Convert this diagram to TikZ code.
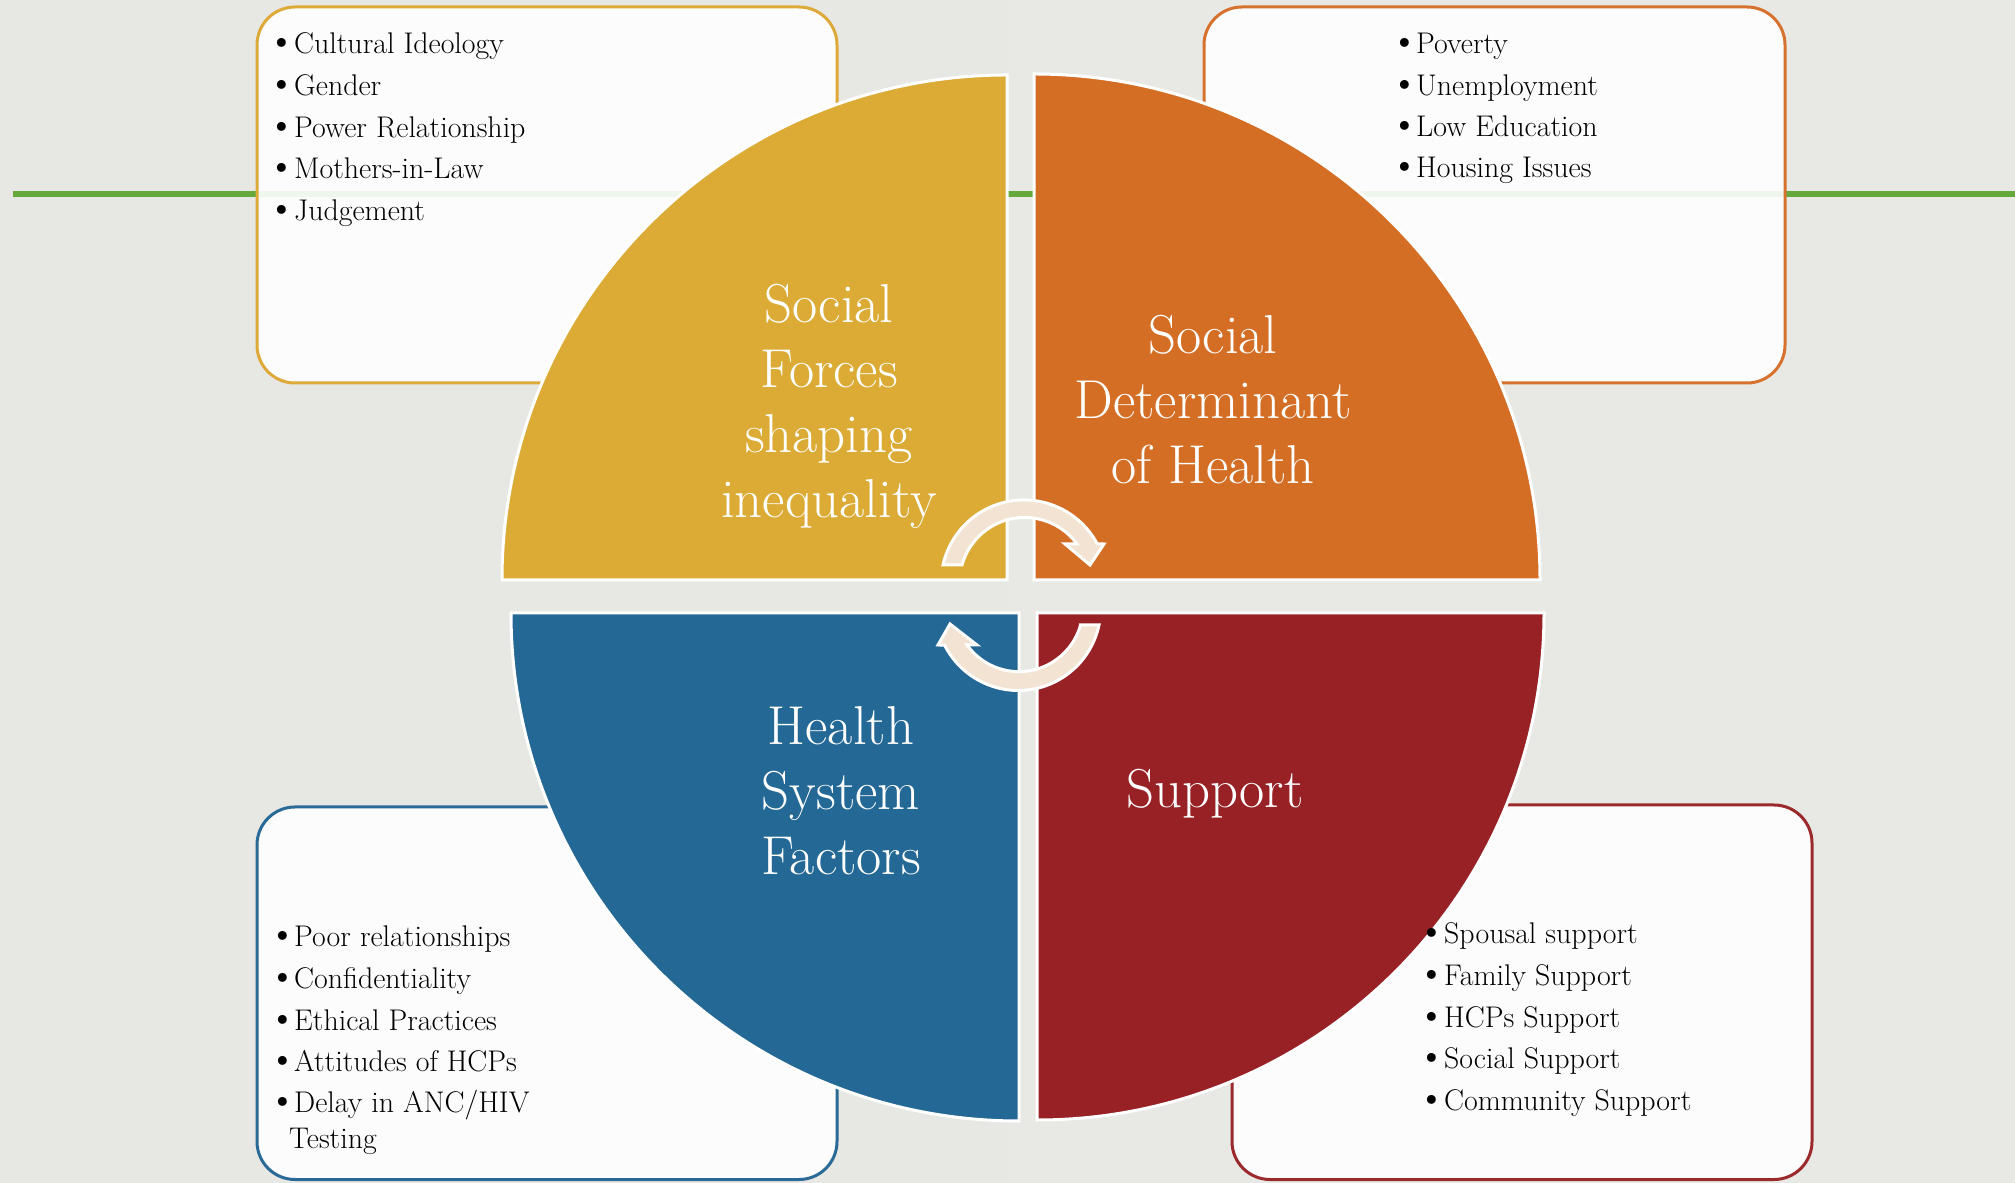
\documentclass[tikz,border=0pt]{standalone}
\usepackage{fontspec}
\definecolor{bgL}{HTML}{E7E7E3}
\definecolor{bgM}{HTML}{F4F4F2}
\definecolor{bgR}{HTML}{E8E8E4}
\definecolor{greenline}{HTML}{65A83B}
\definecolor{qgold}{HTML}{DBAB36}
\definecolor{qorange}{HTML}{D46E25}
\definecolor{qblue}{HTML}{246895}
\definecolor{qred}{HTML}{972124}
\definecolor{bgold}{HTML}{DDAA3A}
\definecolor{borange}{HTML}{D7722E}
\definecolor{bblue}{HTML}{2A6A97}
\definecolor{bred}{HTML}{9B2A2C}
\definecolor{arrowcream}{HTML}{F2E3D2}
\tikzset{
  qtext/.style={text=white, font=\fontsize{55}{65}\selectfont, anchor=base, inner sep=0pt},
  ltext/.style={text=black, font=\fontsize{30}{36}\selectfont, anchor=base west, inner sep=0pt},
  lbul/.style={text=black, font=\fontsize{40}{36}\selectfont, anchor=base, inner sep=0pt},
  infobox/.style={rounded corners=38bp, line width=3bp, fill=white, fill opacity=0.9},
  quad/.style={draw=white, line width=3bp},
  cyclearrow/.style={fill=arrowcream, draw=white, line width=3bp, line join=miter},
}
\begin{document}
\begin{tikzpicture}[x=1bp,y=1bp]
\useasboundingbox (0,0) rectangle (2015,1182);
% background
\shade[left color=bgL, middle color=bgM, right color=bgR] (0,0) rectangle (2015,1182);
% green rule
\draw[greenline, line width=6bp] (13,988) -- (2015,988);
% info boxes
\draw[infobox, draw=bgold] (257,799) rectangle (837,1175);
\draw[infobox, draw=borange] (1204,799) rectangle (1785,1175);
\draw[infobox, draw=bblue] (257,2.5) rectangle (837,375);
\draw[infobox, draw=bred] (1232,2.5) rectangle (1812,377);
% quadrants
\draw[quad, fill=qgold] (1007,602) -- ++(-505,0) arc[start angle=180, end angle=90, radius=505] -- cycle;
\draw[quad, fill=qorange] (1034,602) -- ++(0,506) arc[start angle=90, end angle=0, radius=506] -- cycle;
\draw[quad, fill=qblue] (1019,569) -- ++(0,-508) arc[start angle=270, end angle=180, radius=508] -- cycle;
\draw[quad, fill=qred] (1037,569) -- ++(507,0) arc[start angle=0, end angle=-90, radius=507] -- cycle;
% cycle arrows
\draw[cyclearrow] (962,617) -- (943,617) arc[start angle=167.5, end angle=28.1, radius=83]
  -- (1104,638) -- (1090,617) -- (1065,638) -- (1077,638)
  arc[start angle=36.3, end angle=163.8, radius=65] -- cycle;
\draw[cyclearrow] (1079,557) -- (1099,557) arc[start angle=-11.9, end angle=-153.3, radius=82.5]
  -- (938,537) -- (950,558) -- (977,537) -- (967,537)
  arc[start angle=-144.3, end angle=-15.7, radius=64] -- cycle;
% quadrant titles
\node[qtext] (g1) at (829,859) {Social};
\node[qtext] (g2) at (829,794) {Forces};
\node[qtext] (g3) at (829,729) {shaping};
\node[qtext] (g4) at (829,664) {inequality};
\node[qtext] (o1) at (1213,828) {Social};
\node[qtext] (o2) at (1213,763) {Determinant};
\node[qtext] (o3) at (1213,698) {of Health};
\node[qtext] (b1) at (841,437) {Health};
\node[qtext] (b2) at (841,372) {System};
\node[qtext] (b3) at (841,307) {Factors};
\node[qtext] (r1) at (1215,374) {Support};
% lists
\foreach \yy/\t [count=\i] in {1128/{Cultural Ideology}, 1086/{Gender}, 1044/{Power Relationship}, 1003/{Mothers-in-Law}, 961/{Judgement}}{
  \node[lbul] (tlb\i) at (282,\yy) {\textbullet};
  \node[ltext] (tlt\i) at (294,\yy) {\t};
}
\foreach \yy/\t [count=\i] in {1128/{Poverty}, 1086/{Unemployment}, 1045/{Low Education}, 1004/{Housing Issues}}{
  \node[lbul] (trb\i) at (1405,\yy) {\textbullet};
  \node[ltext] (trt\i) at (1416,\yy) {\t};
}
\foreach \yy/\t [count=\i] in {235/{Poor relationships}, 193/{Confidentiality}, 152/{Ethical Practices}, 111/{Attitudes of HCPs}, 70/{Delay in ANC/HIV}}{
  \node[lbul] (blb\i) at (283,\yy) {\textbullet};
  \node[ltext] (blt\i) at (294,\yy) {\t};
}
\node[ltext] (blt6) at (289,34) {Testing};
\foreach \yy/\t [count=\i] in {238/{Spousal support}, 196/{Family Support}, 155/{HCPs Support}, 114/{Social Support}, 72/{Community Support}}{
  \node[lbul] (brb\i) at (1432,\yy) {\textbullet};
  \node[ltext] (brt\i) at (1444,\yy) {\t};
}
\end{tikzpicture}
\end{document}
